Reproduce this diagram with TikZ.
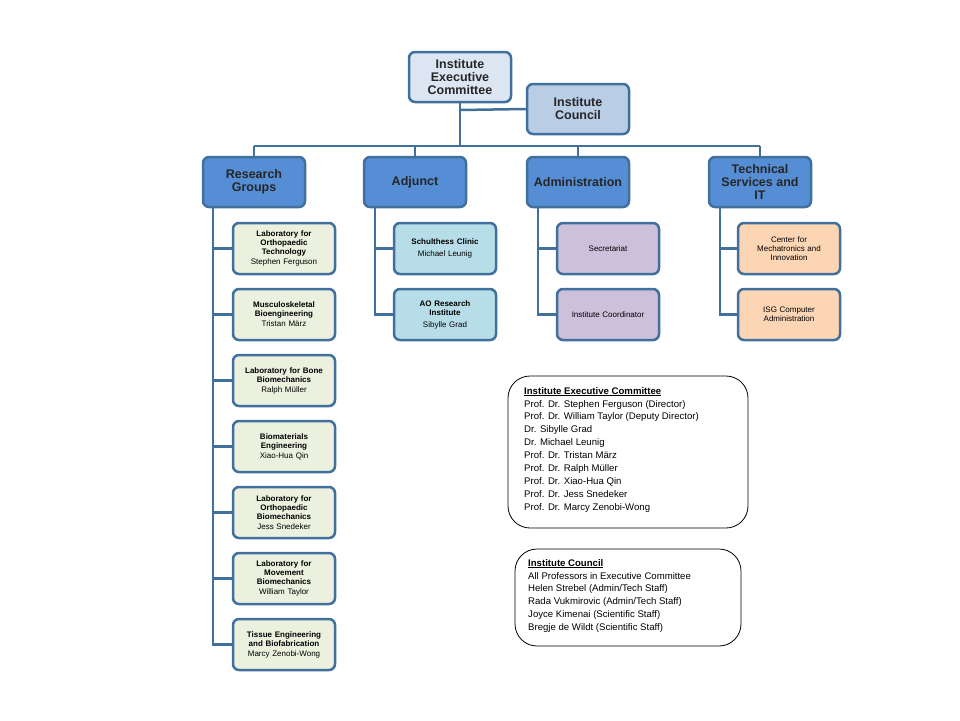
\documentclass[tikz,border=0pt]{standalone}
\usepackage{fontspec}
\setmainfont{Liberation Sans}
\begin{document}
\begin{tikzpicture}[x=1pt,y=-1pt,
  box/.style={draw=bordc,line width=2.5pt,rounded corners=6pt,align=center,inner sep=1pt},
  top/.style={box,minimum width=102pt,minimum height=50pt,font=\fontsize{12.5}{13}\selectfont\bfseries,text=black!85},
  leaf/.style={box,minimum width=102pt,minimum height=51pt,font=\fontsize{8}{9}\selectfont,text width=98pt},
  ln/.style={draw=bordc,line width=2.5pt},
  info/.style={draw=black,rounded corners=22pt,line width=0.8pt}]
\definecolor{bordc}{HTML}{41709C}
\definecolor{iec}{HTML}{DCE6F2}
\definecolor{cou}{HTML}{B9CDE5}
\definecolor{lvl}{HTML}{558ED5}
\definecolor{rg}{HTML}{EBF1DE}
\definecolor{adj}{HTML}{B7DEE8}
\definecolor{adm}{HTML}{CCC0DA}
\definecolor{tec}{HTML}{FCD5B5}
\useasboundingbox[fill=white] (0,0) rectangle (960,720);
\coordinate (bus) at (460,146);
\coordinate (busL) at (254,146);
\coordinate (busR) at (760,146);
\coordinate (cj) at (460,110);
\draw[ln] (busL) -- (busR);
\node[top,fill=iec] (iec) at (460,77) {Institute\\Executive\\Committee};
\node[top,fill=cou] (cou) at (578,109) {Institute\\Council};
\draw[ln] (iec.south) -- (bus);
\draw[ln] (cj) -- (cou.west);
\node[top,fill=lvl] (rg) at (254,182) {Research\\Groups};
\node[top,fill=lvl] (adj) at (415,182) {Adjunct};
\node[top,fill=lvl] (adm) at (578,182) {Administration};
\node[top,fill=lvl] (tec) at (760,182) {Technical\\Services and\\IT};
\foreach \n/\x in {rg/254,adj/415,adm/578,tec/760}{\draw[ln] (\x,146) -- (\n.north);}
% research leaves
\foreach \i/\t/\p [count=\k] in {
 {248.5}/{Laboratory for\\Orthopaedic\\Technology}/{Stephen Ferguson},
 {314.5}/{Musculoskeletal\\Bioengineering}/{Tristan März},
 {380.5}/{Laboratory for Bone\\Biomechanics}/{Ralph Müller},
 {446.5}/{Biomaterials\\Engineering}/{Xiao-Hua Qin},
 {512.5}/{Laboratory for\\Orthopaedic\\Biomechanics}/{Jess Snedeker},
 {578.5}/{Laboratory for\\Movement\\Biomechanics}/{William Taylor},
 {644.5}/{Tissue Engineering\\and Biofabrication}/{Marcy Zenobi-Wong}}{
 \node[leaf,fill=rg] (r\k) at (284,\i) {\textbf{\t}\\[1pt]\p};
 \draw[ln] (213,\i) -- (r\k.west);
}
\draw[ln] (213,208) -- (213,645.7);
\node[leaf,fill=adj] (a1) at (445,248.5) {\textbf{Schulthess Clinic}\\[3pt]Michael Leunig};
\node[leaf,fill=adj] (a2) at (445,314.5) {\textbf{AO Research\\Institute}\\[3pt]Sibylle Grad};
\draw[ln] (375,208) |- (a2.west); \draw[ln] (375,248.5) -- (a1.west);
\node[leaf,fill=adm] (m1) at (608,248.5) {Secretariat};
\node[leaf,fill=adm] (m2) at (608,314.5) {Institute Coordinator};
\draw[ln] (538,208) |- (m2.west); \draw[ln] (538,248.5) -- (m1.west);
\node[leaf,fill=tec] (t1) at (789,248.5) {Center for\\Mechatronics and\\Innovation};
\node[leaf,fill=tec] (t2) at (789,314.5) {ISG Computer\\Administration};
\draw[ln] (720,208) |- (t2.west); \draw[ln] (720,248.5) -- (t1.west);
% info boxes
\draw[info] (508,376) rectangle (748,528);
\node[anchor=north west,align=left,font=\fontsize{9.6}{12.9}\selectfont,inner sep=0] (ie) at (524,387) {\textbf{\underline{Institute Executive Committee}}\\
Prof. Dr. Stephen Ferguson (Director)\\
Prof. Dr. William Taylor (Deputy Director)\\
Dr. Sibylle Grad\\
Dr. Michael Leunig\\
Prof. Dr. Tristan März\\
Prof. Dr. Ralph Müller\\
Prof. Dr. Xiao-Hua Qin\\
Prof. Dr. Jess Snedeker\\
Prof. Dr. Marcy Zenobi-Wong};
\draw[info] (515,549) rectangle (741,646);
\node[anchor=north west,align=left,font=\fontsize{9.6}{12.9}\selectfont,inner sep=0] (ic) at (528,559) {\textbf{\underline{Institute Council}}\\
All Professors in Executive Committee\\
Helen Strebel (Admin/Tech Staff)\\
Rada Vukmirovic (Admin/Tech Staff)\\
Joyce Kimenai (Scientific Staff)\\
Bregje de Wildt (Scientific Staff)};
\end{tikzpicture}
\end{document}
